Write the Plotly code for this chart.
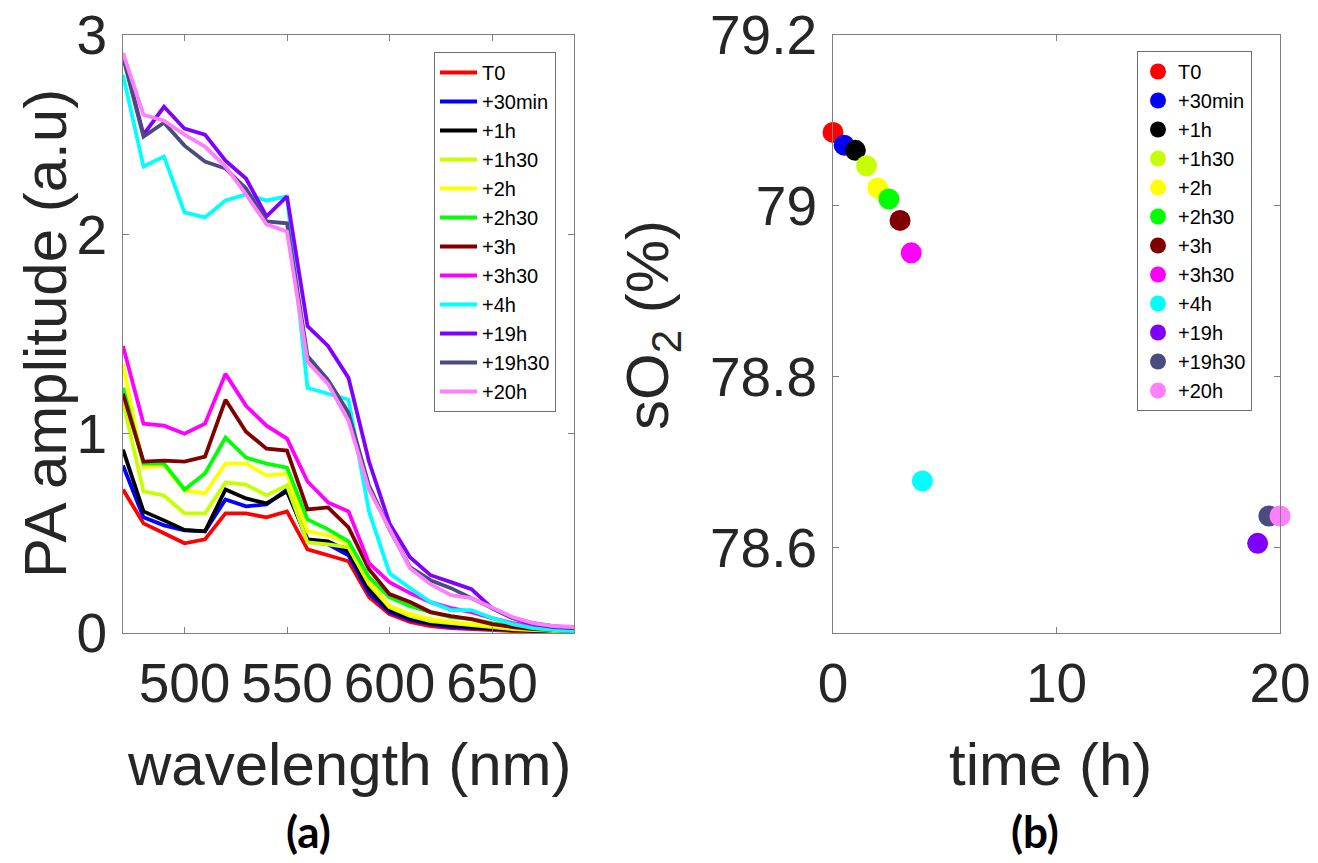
import plotly.graph_objects as go

# ---------------- data ----------------
wavelength_nm = [470, 480, 490, 500, 510, 520, 530, 540, 550, 560, 570, 580,
                 590, 600, 610, 620, 630, 640, 650, 660, 670, 680, 690]

pa_T0 = [0.72, 0.55, 0.50, 0.45, 0.47, 0.60, 0.60, 0.58, 0.61, 0.42, 0.39, 0.36,
         0.18, 0.095, 0.055, 0.035, 0.025, 0.02, 0.013, 0.01, 0.008, 0.006, 0.005]
pa_30min = [0.84, 0.58, 0.54, 0.515, 0.51, 0.67, 0.635, 0.645, 0.72, 0.46, 0.445, 0.39,
            0.20, 0.105, 0.065, 0.045, 0.03, 0.025, 0.018, 0.013, 0.01, 0.007, 0.005]
pa_1h = [0.92, 0.61, 0.565, 0.517, 0.51, 0.72, 0.675, 0.65, 0.71, 0.47, 0.46, 0.41,
         0.22, 0.115, 0.075, 0.05, 0.04, 0.03, 0.022, 0.016, 0.012, 0.009, 0.006]
pa_1h30 = [1.16, 0.71, 0.69, 0.60, 0.60, 0.755, 0.745, 0.69, 0.74, 0.455, 0.445, 0.43,
           0.245, 0.13, 0.085, 0.06, 0.05, 0.04, 0.03, 0.02, 0.015, 0.01, 0.008]
pa_2h = [1.35, 0.83, 0.84, 0.715, 0.70, 0.85, 0.85, 0.79, 0.80, 0.51, 0.49, 0.45,
         0.26, 0.135, 0.095, 0.07, 0.055, 0.045, 0.035, 0.025, 0.018, 0.012, 0.008]
pa_2h30 = [1.23, 0.85, 0.85, 0.72, 0.80, 0.98, 0.88, 0.85, 0.83, 0.57, 0.52, 0.46,
           0.28, 0.18, 0.135, 0.105, 0.08, 0.07, 0.05, 0.035, 0.025, 0.015, 0.01]
pa_3h = [1.20, 0.86, 0.865, 0.86, 0.885, 1.17, 1.01, 0.925, 0.915, 0.62, 0.63, 0.53,
         0.32, 0.195, 0.155, 0.105, 0.085, 0.07, 0.045, 0.03, 0.02, 0.015, 0.01]
pa_3h30 = [1.44, 1.05, 1.04, 1.00, 1.05, 1.30, 1.14, 1.04, 0.975, 0.76, 0.655, 0.61,
           0.35, 0.255, 0.20, 0.155, 0.125, 0.105, 0.075, 0.05, 0.035, 0.025, 0.02]
pa_4h = [2.80, 2.34, 2.39, 2.11, 2.085, 2.17, 2.20, 2.17, 2.19, 1.23, 1.20, 1.17,
         0.61, 0.30, 0.225, 0.155, 0.115, 0.115, 0.075, 0.045, 0.025, 0.015, 0.01]
pa_19h = [2.90, 2.50, 2.64, 2.53, 2.50, 2.37, 2.28, 2.09, 2.19, 1.54, 1.44, 1.28,
          0.86, 0.55, 0.38, 0.29, 0.255, 0.22, 0.125, 0.075, 0.045, 0.03, 0.025]
pa_19h30 = [2.89, 2.49, 2.56, 2.445, 2.365, 2.33, 2.23, 2.065, 2.055, 1.39, 1.27, 1.105,
            0.74, 0.52, 0.33, 0.265, 0.225, 0.175, 0.125, 0.075, 0.05, 0.035, 0.025]
pa_20h = [2.91, 2.60, 2.57, 2.50, 2.44, 2.34, 2.20, 2.05, 2.015, 1.36, 1.25, 1.065,
          0.72, 0.52, 0.325, 0.245, 0.19, 0.175, 0.125, 0.08, 0.05, 0.035, 0.03]

series_names = ["T0", "+30min", "+1h", "+1h30", "+2h", "+2h30", "+3h", "+3h30",
                "+4h", "+19h", "+19h30", "+20h"]
series_colors = ["#ff0000", "#0000ff", "#000000", "#c8ff00", "#ffff00", "#00ff00",
                 "#800000", "#ff00ff", "#00ffff", "#8000ff", "#4b4b80", "#ff80ff"]

time_h = [0, 0.5, 1, 1.5, 2, 2.5, 3, 3.5, 4, 19, 19.5, 20]
so2_pct = [79.086, 79.071, 79.065, 79.047, 79.021, 79.008, 78.983, 78.945,
           78.678, 78.605, 78.637, 78.637]

a_xticks = [500, 550, 600, 650]
a_yticks = [0, 1, 2, 3]
b_xticks = [0, 10, 20]
b_yticks = [78.6, 78.8, 79, 79.2]
b_yticklabels = ["78.6", "78.8", "79", "79.2"]

# ---------------- layout helpers ----------------
# The page body keeps an 8px margin; keep the figure inside the window so no
# scrollbars appear. Positions below are given in window pixels.
OFF = 8
W, H = 1302, 847


def X(px):
    return (px - OFF) / W


def Y(py):
    return 1 - (py - OFF) / H


pa_series = [pa_T0, pa_30min, pa_1h, pa_1h30, pa_2h, pa_2h30, pa_3h, pa_3h30,
             pa_4h, pa_19h, pa_19h30, pa_20h]

fig = go.Figure()

for name, color, vals in zip(series_names, series_colors, pa_series):
    fig.add_trace(go.Scatter(
        x=wavelength_nm, y=vals, mode="lines", name=name,
        line=dict(color=color, width=3.8), xaxis="x", yaxis="y",
        legend="legend", showlegend=True))

for name, color, t, s in zip(series_names, series_colors, time_h, so2_pct):
    fig.add_trace(go.Scatter(
        x=[t], y=[s], mode="markers", name=name,
        marker=dict(color=color, size=21, line=dict(width=0)),
        xaxis="x2", yaxis="y2", legend="legend2", cliponaxis=False))

TXT = "#262626"
LINE = "#7f7f7f"
FONT = "Liberation Sans, Arial, sans-serif"

axis_common = dict(showline=True, linecolor=LINE, linewidth=1, mirror="ticks",
                   ticks="inside", ticklen=6, tickcolor=LINE, tickwidth=1,
                   showgrid=False, zeroline=False, automargin=False,
                   ticklabeloverflow="allow",
                   tickfont=dict(family=FONT, size=55, color=TXT))

fig.update_layout(
    template="none",
    width=W, height=H,
    margin=dict(l=0, r=0, t=0, b=0, pad=0, autoexpand=False),
    paper_bgcolor="white", plot_bgcolor="white",
    showlegend=True,
    xaxis=dict(domain=[X(123), X(574)], range=[470, 690], tickvals=a_xticks,
               anchor="y", ticklabelstandoff=2, **axis_common),
    yaxis=dict(domain=[Y(633), Y(35)], range=[0, 3], tickvals=a_yticks,
               anchor="x", ticklabelstandoff=4, **axis_common),
    xaxis2=dict(domain=[X(833), X(1280)], range=[0, 20], tickvals=b_xticks,
                anchor="y2", ticklabelstandoff=2, **axis_common),
    yaxis2=dict(domain=[Y(633), Y(35)], range=[78.5, 79.2], tickvals=b_yticks,
                ticktext=b_yticklabels, anchor="x2", ticklabelstandoff=4,
                **axis_common),
    legend=dict(x=X(434), y=Y(52), xanchor="left", yanchor="top",
                bgcolor="white", bordercolor="#6e6e6e", borderwidth=1,
                font=dict(family=FONT, size=20, color="black"),
                itemwidth=37, tracegroupgap=0),
    legend2=dict(x=X(1137), y=Y(51), xanchor="left", yanchor="top",
                 bgcolor="white", bordercolor="#6e6e6e", borderwidth=1,
                 font=dict(family=FONT, size=20, color="black"),
                 itemwidth=30, tracegroupgap=0),
)

ann_font = dict(family=FONT, size=60, color=TXT)
fig.add_annotation(text="PA amplitude (a.u)", textangle=-90, x=X(45), y=Y(334),
                   xref="paper", yref="paper", xanchor="center", yanchor="middle",
                   showarrow=False, font=ann_font)
fig.add_annotation(text="sO<sub>2</sub> (%)", textangle=-90, x=X(652), y=Y(325),
                   xref="paper", yref="paper", xanchor="center", yanchor="middle",
                   showarrow=False, font=ann_font)
fig.add_annotation(text="wavelength (nm)", x=X(350), y=Y(764),
                   xref="paper", yref="paper", xanchor="center", yanchor="middle",
                   showarrow=False, font=ann_font)
fig.add_annotation(text="time (h)", x=X(1050), y=Y(764),
                   xref="paper", yref="paper", xanchor="center", yanchor="middle",
                   showarrow=False, font=ann_font)
lab_font = dict(family="Lato, Open Sans, sans-serif", size=44, color="black")
fig.add_annotation(text="<b>(a)</b>", x=X(308), y=Y(831),
                   xref="paper", yref="paper", xanchor="center", yanchor="middle",
                   showarrow=False, font=lab_font)
fig.add_annotation(text="<b>(b)</b>", x=X(1035), y=Y(831),
                   xref="paper", yref="paper", xanchor="center", yanchor="middle",
                   showarrow=False, font=lab_font)

fig.write_html("out.html")
